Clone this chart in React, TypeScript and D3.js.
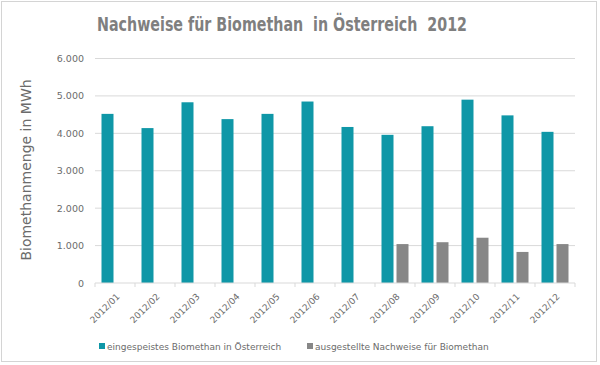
import React, { useEffect, useRef } from "react";
import * as d3 from "d3";

const months = ["2012/01", "2012/02", "2012/03", "2012/04", "2012/05", "2012/06", "2012/07", "2012/08", "2012/09", "2012/10", "2012/11", "2012/12"];
const eingespeist = [4520, 4140, 4830, 4380, 4520, 4850, 4170, 3960, 4190, 4900, 4480, 4040];
const nachweise = [0, 0, 0, 0, 0, 0, 0, 1040, 1090, 1210, 830, 1040];
const seriesNames = ["eingespeistes Biomethan in Österreich", "ausgestellte Nachweise für Biomethan"];
const yTicks = [0, 1000, 2000, 3000, 4000, 5000, 6000];

const colors = ["#0f97a7", "#878787"];

function App() {
  const ref = useRef<SVGSVGElement>(null);

  useEffect(() => {
    const width = 600;
    const height = 365;
    const margin = { top: 58.5, left: 95, bottom: 82, right: 25 };

    const svg = d3.select(ref.current);
    svg.selectAll("*").remove();

    // frame
    svg.append("rect")
      .attr("x", 1.5).attr("y", 1.5)
      .attr("width", 595).attr("height", 360)
      .attr("fill", "#fff")
      .attr("stroke", "#d4d4d4");

    svg.append("text")
      .attr("x", 282).attr("y", 31)
      .attr("text-anchor", "middle")
      .attr("font-family", "'DejaVu Sans', sans-serif")
      .attr("font-weight", "bold")
      .attr("font-size", 19)
      .attr("fill", "#7f7f7f")
      .attr("textLength", 370)
      .attr("lengthAdjust", "spacingAndGlyphs")
      .style("white-space", "pre")
      .text("Nachweise für Biomethan  in Österreich  2012");

    const x = d3.scaleBand()
      .domain(months)
      .range([margin.left, width - margin.right])
      .paddingInner(0.325)
      .paddingOuter(0.1625);

    const xs = d3.scaleBand()
      .domain(["0", "1"])
      .range([0, x.bandwidth()])
      .paddingInner(0.2);

    const y = d3.scaleLinear()
      .domain([0, 6000])
      .range([height - margin.bottom, margin.top]);

    // grid
    svg.append("g")
      .selectAll("line")
      .data(yTicks.slice(1))
      .enter()
      .append("line")
      .attr("x1", margin.left).attr("x2", width - margin.right)
      .attr("y1", d => y(d)).attr("y2", d => y(d))
      .attr("stroke", "#d9d9d9");

    // y tick labels
    const fmt = (v: number) => d3.format(",")(v).replace(/,/g, ".");
    svg.append("g")
      .selectAll("text")
      .data(yTicks)
      .enter()
      .append("text")
      .attr("x", 84)
      .attr("y", d => y(d) + 3.5)
      .attr("text-anchor", "end")
      .attr("font-family", "'DejaVu Sans', sans-serif")
      .attr("font-size", 9.5)
      .attr("fill", "#6b6b6b")
      .text(d => fmt(d));

    // bars
    const data = [eingespeist, nachweise];
    data.forEach((vals, si) => {
      svg.append("g")
        .attr("fill", colors[si])
        .selectAll("rect")
        .data(vals.map((v, i) => ({ m: months[i], v })).filter(d => d.v > 0))
        .enter()
        .append("rect")
        .attr("x", d => (x(d.m) as number) + (xs(String(si)) as number))
        .attr("y", d => y(d.v))
        .attr("width", xs.bandwidth())
        .attr("height", d => y(0) - y(d.v));
    });

    // x axis
    const step = x.step();
    const axis = svg.append("g");
    axis.append("line")
      .attr("x1", margin.left).attr("x2", width - margin.right)
      .attr("y1", y(0)).attr("y2", y(0))
      .attr("stroke", "#d9d9d9");
    axis.selectAll("line.tick")
      .data(d3.range(months.length + 1))
      .enter()
      .append("line")
      .attr("class", "tick")
      .attr("x1", i => margin.left + i * step).attr("x2", i => margin.left + i * step)
      .attr("y1", y(0)).attr("y2", y(0) + 4)
      .attr("stroke", "#d9d9d9");
    axis.selectAll("text")
      .data(months)
      .enter()
      .append("text")
      .attr("transform", d => `translate(${(x(d) as number) + x.bandwidth() / 2 + 3},${y(0) + 12}) rotate(-45)`)
      .attr("text-anchor", "end")
      .attr("dy", "0.35em")
      .attr("font-family", "'DejaVu Sans', sans-serif")
      .attr("font-size", 9)
      .attr("fill", "#6b6b6b")
      .text(d => d);

    // y axis title
    svg.append("text")
      .attr("transform", `translate(31,170) rotate(-90)`)
      .attr("text-anchor", "middle")
      .attr("font-family", "'DejaVu Sans', sans-serif")
      .attr("font-size", 14)
      .attr("fill", "#6b6b6b")
      .text("Biomethanmenge in MWh");

    // legend
    const legendX = [99, 307];
    const lg = svg.append("g");
    seriesNames.forEach((name, i) => {
      lg.append("rect")
        .attr("x", legendX[i]).attr("y", 343)
        .attr("width", 6).attr("height", 6)
        .attr("fill", colors[i]);
      lg.append("text")
        .attr("x", legendX[i] + 8).attr("y", 349.5)
        .attr("font-family", "'DejaVu Sans', sans-serif")
        .attr("font-size", 9)
        .attr("fill", "#6b6b6b")
        .text(name);
    });
  }, []);

  return (
    <svg ref={ref} width={600} height={365} style={{ position: "absolute", left: 0, top: 0 }} />
  );
}

export default App;
